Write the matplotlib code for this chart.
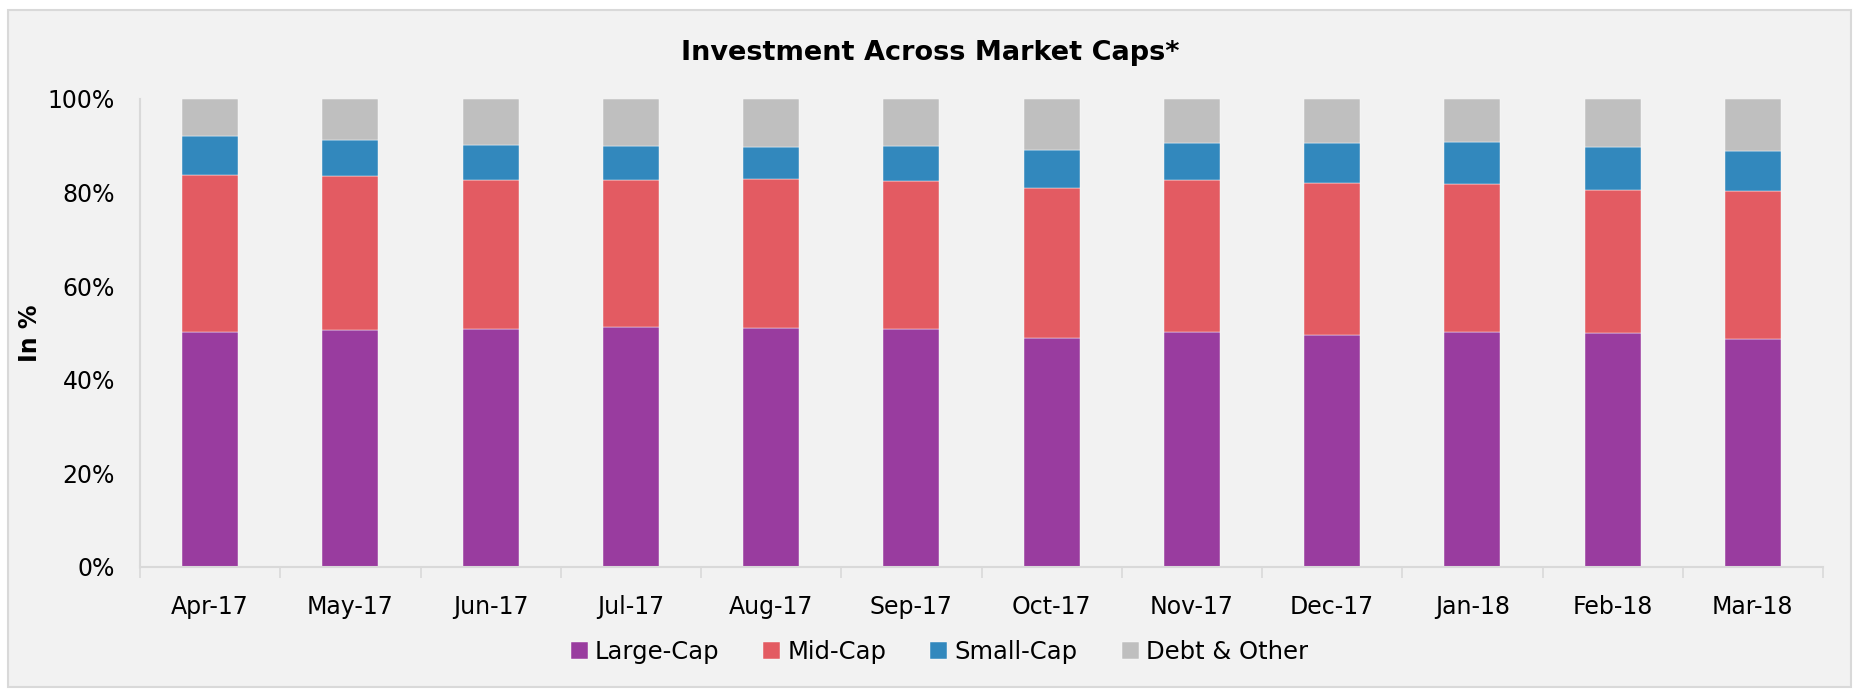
import matplotlib.pyplot as plt
import numpy as np
from matplotlib.patches import Rectangle
from matplotlib.ticker import PercentFormatter

months = ['Apr-17', 'May-17', 'Jun-17', 'Jul-17', 'Aug-17', 'Sep-17',
          'Oct-17', 'Nov-17', 'Dec-17', 'Jan-18', 'Feb-18', 'Mar-18']
large_cap = [50.3, 50.7, 50.9, 51.2, 51.0, 50.8, 49.0, 50.2, 49.5, 50.3, 49.9, 48.7]
mid_cap = [33.5, 32.9, 31.7, 31.4, 31.8, 31.6, 31.9, 32.4, 32.6, 31.5, 30.6, 31.6]
small_cap = [8.4, 7.6, 7.6, 7.4, 6.9, 7.5, 8.1, 8.1, 8.6, 9.1, 9.3, 8.5]
debt_other = [7.8, 8.8, 9.8, 10.0, 10.3, 10.1, 11.0, 9.3, 9.3, 9.1, 10.2, 11.2]

series = [('Large-Cap', large_cap, '#993c9f'),
          ('Mid-Cap', mid_cap, '#e35b62'),
          ('Small-Cap', small_cap, '#3288bd'),
          ('Debt & Other', debt_other, '#bfbfbf')]

plt.rcParams['font.family'] = ['DejaVu Sans']

fig = plt.figure(figsize=(18.6, 6.89), dpi=100, facecolor='white')
fig.patches.append(Rectangle((8 / 1860, 2 / 689), 1843 / 1860, 677 / 689,
                             transform=fig.transFigure, facecolor='#f2f2f2',
                             edgecolor='#d9d9d9', linewidth=1.5, zorder=-1))

ax = fig.add_axes([140 / 1860, 1 - 567 / 689, 1683 / 1860, 468 / 689])
ax.set_facecolor('#f2f2f2')

x = np.arange(len(months))
bottom = np.zeros(len(months))
for name, vals, color in series:
    vals = np.array(vals)
    ax.bar(x, vals, 0.4, bottom=bottom, color=color, label=name,
           edgecolor='white', linewidth=0.3)
    bottom += vals

ax.set_xlim(-0.5, len(months) - 0.5)
ax.set_ylim(0, 100)
ax.set_yticks(range(0, 101, 20))
ax.yaxis.set_major_formatter(PercentFormatter(decimals=0))
ax.set_xticks(x)
ax.set_xticklabels(months)
ax.set_xticks(np.arange(-0.5, len(months)), minor=True)
ax.tick_params(axis='x', which='major', length=0, pad=20, labelsize=17)
ax.tick_params(axis='x', which='minor', length=8, color='#d9d9d9', width=1.2)
ax.tick_params(axis='y', length=0, pad=18, labelsize=17)

for s in ['top', 'right']:
    ax.spines[s].set_visible(False)
for s in ['left', 'bottom']:
    ax.spines[s].set_color('#d9d9d9')
    ax.spines[s].set_linewidth(1.5)

ax.set_ylabel('In %', fontsize=17, fontweight='bold')
ax.yaxis.set_label_coords(-0.0585, 0.5)

fig.text(0.5, 1 - 53 / 689, 'Investment Across Market Caps*', ha='center',
         va='center', fontsize=19.5, fontweight='bold')

fig.legend(loc='center', bbox_to_anchor=(0.505, 1 - 652 / 689), ncol=4,
           frameon=False, fontsize=17.5, handlelength=0.7, handleheight=0.7,
           handletextpad=0.3, columnspacing=1.8)

fig.savefig('out.png', dpi=100, facecolor=fig.get_facecolor())
